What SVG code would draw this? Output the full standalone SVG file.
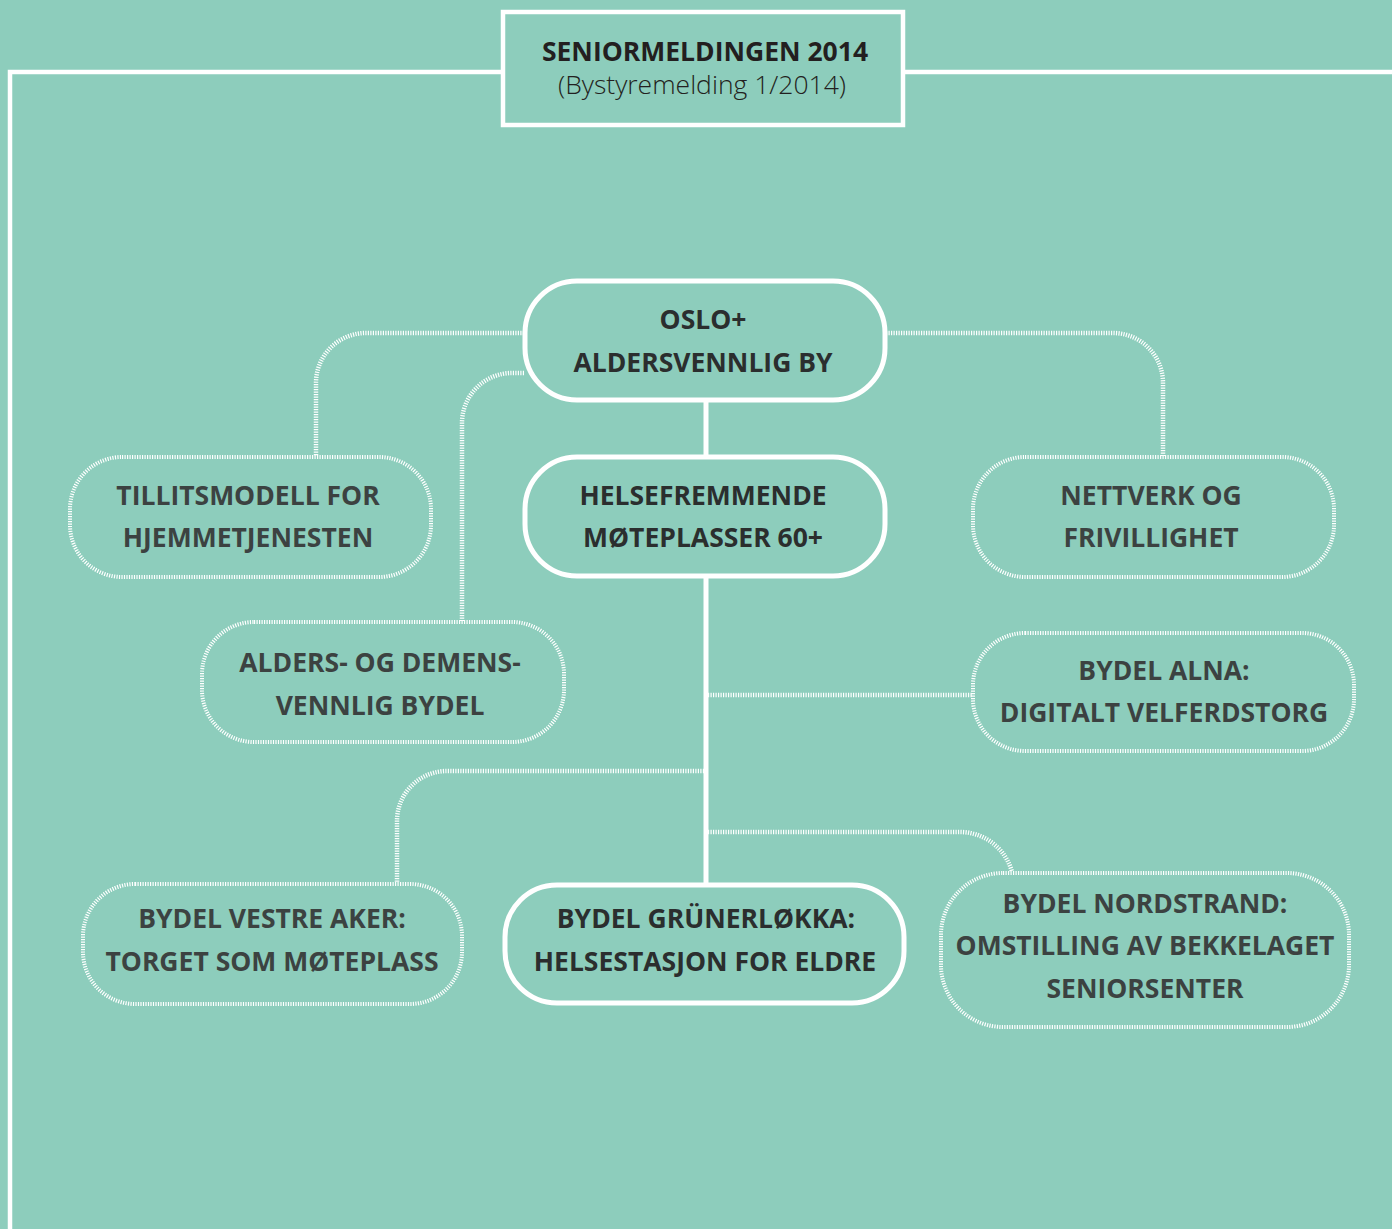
<svg xmlns="http://www.w3.org/2000/svg" width="1392" height="1229" viewBox="0 0 1392 1229">
<style>
.bg{fill:#8dcdbc}
.frame{fill:none;stroke:#fff;stroke-width:4.5}
.solid{fill:none;stroke:#fff;stroke-width:5}
.dash{fill:none;stroke:#fff;stroke-width:4;stroke-dasharray:1.2 1.3}
.conn{fill:none;stroke:#fff;stroke-width:4.5;stroke-dasharray:1.2 1.3}
.line{fill:none;stroke:#fff;stroke-width:5}
text{font-family:"Open Sans","Noto Sans","Liberation Sans",sans-serif;text-anchor:middle}
.t{font-size:26.5px;font-weight:700;fill:#2b2e2e}
.d{font-size:26.5px;font-weight:700;fill:#3c4241}
.h{font-size:26.5px;font-weight:700;fill:#231f20}
.s{font-size:26.5px;font-weight:300;fill:#231f20}
</style>
<rect class="bg" x="0" y="0" width="1392" height="1229"/>
<g id="frame">
<path class="frame" d="M10,1229 V72 H503 M903,72 H1392"/>
</g>
<g id="title">
<rect class="frame" x="503" y="12" width="400" height="113" stroke-width="5"/>
<text class="h" x="705" y="61">SENIORMELDINGEN 2014</text>
<text class="s" x="702" y="94">(Bystyremelding 1/2014)</text>
</g>
<g id="connectors">
<path class="line" d="M706,401 V456"/>
<path class="line" d="M706,577 V884"/>
<path class="conn" d="M524,333 H366 A50,50 0 0 0 316,383 V456"/>
<path class="conn" d="M524,373 H512 A50,50 0 0 0 462,423 V621"/>
<path class="conn" d="M886,333 H1113 A50,50 0 0 1 1163,383 V456"/>
<path class="conn" d="M708,695 H973"/>
<path class="conn" d="M704,771 H447 A50,50 0 0 0 397,821 V883"/>
<path class="conn" d="M708,832 H958 A54,54 0 0 1 1012,872"/>
</g>
<g id="n-oslo">
<rect class="solid" x="525" y="281" width="360" height="119" rx="52"/>
<text class="t" x="703" y="329">OSLO+</text>
<text class="t" x="703" y="372">ALDERSVENNLIG BY</text>
</g>
<g id="n-helse">
<rect class="solid" x="525" y="457" width="360" height="119" rx="52"/>
<text class="t" x="703" y="505">HELSEFREMMENDE</text>
<text class="t" x="703" y="547">MØTEPLASSER 60+</text>
</g>
<g id="n-tillit">
<rect class="dash" x="70" y="457" width="361" height="120" rx="52"/>
<text class="d" x="248" y="505">TILLITSMODELL FOR</text>
<text class="d" x="248" y="547">HJEMMETJENESTEN</text>
</g>
<g id="n-nettverk">
<rect class="dash" x="973" y="457" width="361" height="120" rx="52"/>
<text class="d" x="1151" y="505">NETTVERK OG</text>
<text class="d" x="1151" y="547">FRIVILLIGHET</text>
</g>
<g id="n-alders">
<rect class="dash" x="202" y="622" width="362" height="120" rx="52"/>
<text class="d" x="380" y="672">ALDERS- OG DEMENS-</text>
<text class="d" x="380" y="715">VENNLIG BYDEL</text>
</g>
<g id="n-alna">
<rect class="dash" x="973" y="633" width="381" height="118" rx="52"/>
<text class="d" x="1164" y="680">BYDEL ALNA:</text>
<text class="d" x="1164" y="722">DIGITALT VELFERDSTORG</text>
</g>
<g id="n-vestre">
<rect class="dash" x="83" y="884" width="379" height="120" rx="52"/>
<text class="d" x="272" y="928">BYDEL VESTRE AKER:</text>
<text class="d" x="272" y="971">TORGET SOM MØTEPLASS</text>
</g>
<g id="n-gruner">
<rect class="solid" x="505" y="885" width="399" height="118" rx="52"/>
<text class="t" x="706" y="928">BYDEL GRÜNERLØKKA:</text>
<text class="t" x="705" y="971">HELSESTASJON FOR ELDRE</text>
</g>
<g id="n-nord">
<rect class="dash" x="941" y="873" width="408" height="154" rx="62"/>
<text class="d" x="1145" y="913">BYDEL NORDSTRAND:</text>
<text class="d" x="1145" y="955">OMSTILLING AV BEKKELAGET</text>
<text class="d" x="1145" y="998">SENIORSENTER</text>
</g>
</svg>
